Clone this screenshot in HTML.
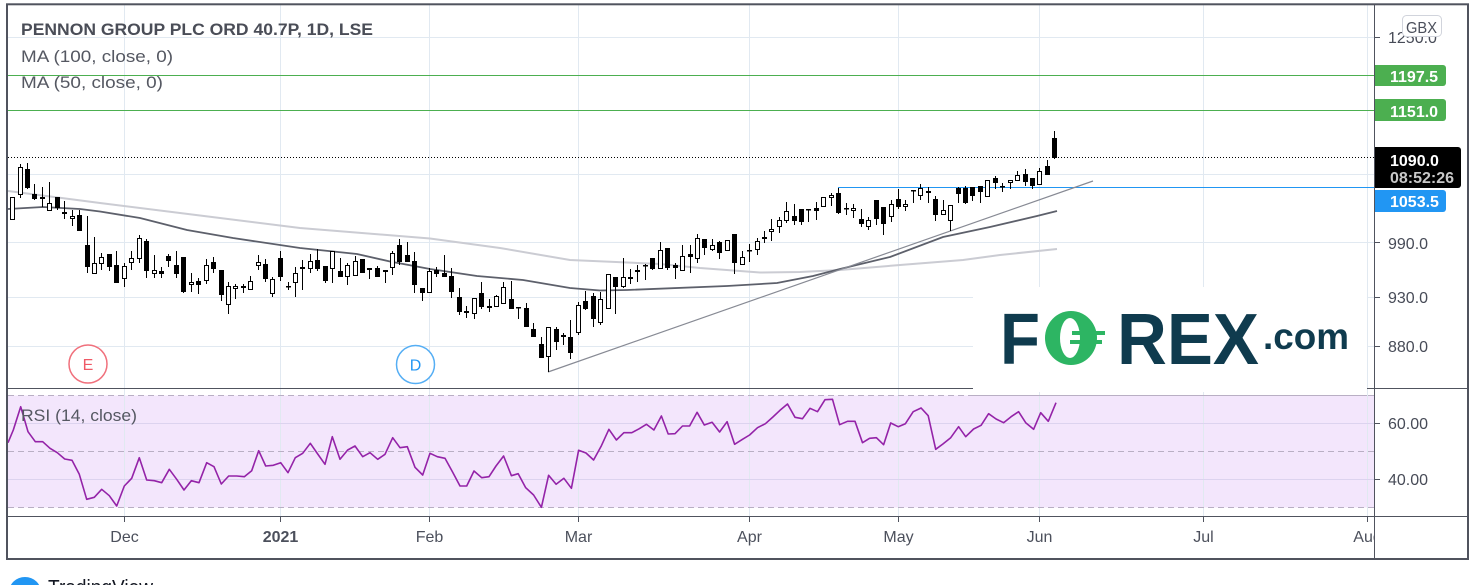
<!DOCTYPE html>
<html><head><meta charset="utf-8"><style>
html,body{margin:0;padding:0;background:#fff;}
svg{display:block;}
text{font-family:"Liberation Sans",Arial,sans-serif;}
</style></head><body>
<svg width="1478" height="585" viewBox="0 0 1478 585" xmlns="http://www.w3.org/2000/svg">
<defs>
<clipPath id="pp"><rect x="8" y="5" width="1366" height="383"/></clipPath>
<clipPath id="ta"><rect x="8" y="516" width="1366" height="42"/></clipPath>
</defs>
<rect width="1478" height="585" fill="#fff"/>
<rect x="8" y="395.5" width="1366" height="112" fill="#f3e6fc"/>
<g stroke="#e1e9f1" stroke-width="1">
<path d="M124.5 5V516M280.5 5V516M429.5 5V516M578.5 5V516M749.5 5V516M898.5 5V516M1039.5 5V516M1203.5 5V516M1367.5 5V516"/>
<path d="M8 37.5H1374M8 110.5H1374M8 174.5H1374M8 242.5H1374M8 297.5H1374M8 346.5H1374"/>
</g>
<path d="M8 423.5H1374M8 479.5H1374" stroke="#dcd3ef" stroke-width="1"/>
<path d="M8 395.5H1374M8 451.5H1374M8 507.5H1374" stroke="#b9afc4" stroke-width="1" stroke-dasharray="6,4"/>
<g clip-path="url(#pp)">
<path d="M8 75.5H1374M8 110.5H1374" stroke="#4caf50" stroke-width="1"/>
<path d="M8 157.5H1374" stroke="#000" stroke-width="1" stroke-dasharray="1,2"/>
<path d="M838 187.5H1374" stroke="#2196f3" stroke-width="1"/>
<polyline fill="none" stroke="#cbccd3" stroke-width="2" points="8,191 100,203 200,215.5 300,228 430,238.5 500,248 570,260 660,264 700,268 760,272.5 800,272 840,270 900,265 963,260 1000,255 1057,249"/>
<polyline fill="none" stroke="#5d606b" stroke-width="1.8" points="8,209 43,207 80,209 100,211.5 140,218 187,230 233,238 300,248 357,254 390,261.5 430,269 477,276 523,280 570,288 600,290.5 627,290 727,286 777,283 813,276 840,269 890,257 943,237 990,227 1037,216 1057,211"/>
<line x1="548" y1="372" x2="1093" y2="181" stroke="#878a94" stroke-width="1.2"/>
<path stroke="#000" stroke-width="1" fill="none" d="M12.5 197V220M20.5 164V198M27.5 163V189M34.5 184V200M42.5 187V207M49.5 182V211M57.5 197V210M64.5 201V219M72.5 210V226M79.5 210V231M87.5 216V273M94.5 237V274M101.5 253V270M109.5 254V271M116.5 251V283M124.5 263V287M131.5 251V270M139.5 235V263M146.5 239V278M154.5 255V278M161.5 267V278M168.5 254V267M176.5 251V278M183.5 257V293M191.5 273V292M198.5 278V294M206.5 259V284M213.5 257V273M221.5 270V301M228.5 282V314M235.5 284V299M243.5 284V293M250.5 276V290M258.5 255V270M265.5 259V282M272.5 277V297M280.5 251V281M288.5 282V290M295.5 267V297M302.5 260V290M310.5 254V273M317.5 249V271M325.5 266V283M332.5 251V283M340.5 258V277M347.5 263V285M355.5 256V276M362.5 259V273M369.5 268V279M377.5 266V277M385.5 270V283M392.5 251V275M399.5 239V265M407.5 242V262M414.5 252V293M422.5 288V301M429.5 268V293M436.5 267V277M444.5 255V277M451.5 268V298M459.5 288V315M466.5 306V318M474.5 298V319M481.5 282V309M489.5 299V312M496.5 295V307M503.5 282V304M511.5 281V309M518.5 307V319M526.5 303V327M533.5 323V337M541.5 337V358M548.5 327V372M556.5 327V350M563.5 333V345M570.5 320V359M578.5 302V335M585.5 291V310M593.5 293V327M600.5 292V325M608.5 274V309M615.5 277V314M623.5 258V288M630.5 269V284M637.5 265V282M645.5 264V280M652.5 258V270M660.5 242V269M667.5 248V270M675.5 263V279M682.5 245V271M690.5 245V273M697.5 234V263M704.5 239V255M712.5 239V251M719.5 241V259M727.5 240V251M734.5 234V274M742.5 251V265M749.5 244V262M757.5 238V255M764.5 231V243M771.5 219V241M779.5 217V233M786.5 202V223M794.5 204V225M801.5 209V225M808.5 209V222M816.5 202V220M823.5 197V207M831.5 193V206M838.5 188V214M846.5 203V215M853.5 204V218M861.5 209V227M868.5 217V230M876.5 200V225M883.5 207V235M891.5 200V222M898.5 189V209M905.5 200V211M913.5 190V203M920.5 184V200M928.5 187V203M935.5 196V221M943.5 200V215M950.5 205V231M958.5 187V203M965.5 186V204M972.5 187V201M980.5 186V203M987.5 180V197M995.5 176V189M1002.5 183V192M1010.5 180V189M1017.5 171V181M1025.5 169V186M1032.5 178V189M1039.5 168V185M1047.5 160V175M1054.5 131V159"/>
<path fill="#000" d="M25 169h5v19h-5zM32 194h5v5h-5zM55 197h5v11h-5zM62 212h5v2h-5zM77 215h5v16h-5zM85 245h5v22h-5zM107 254h5v13h-5zM114 265h5v18h-5zM144 241h5v30h-5zM159 271h5v3h-5zM166 256h5v5h-5zM174 265h5v9h-5zM181 257h5v35h-5zM196 281h5v4h-5zM211 262h5v7h-5zM219 270h5v25h-5zM263 264h5v15h-5zM278 258h5v19h-5zM286 286h5v1.5h-5zM300 267h5v2h-5zM315 260h5v9h-5zM323 266h5v15h-5zM338 271h5v6h-5zM360 259h5v14h-5zM375 268h5v9h-5zM383 270h5v2h-5zM397 245h5v17h-5zM405 255h5v7h-5zM412 261h5v24h-5zM420 288h5v5h-5zM434 270h5v4h-5zM442 273h5v4h-5zM449 276h5v16h-5zM457 297h5v15h-5zM464 311h5v2h-5zM479 293h5v14h-5zM509 299h5v10h-5zM516 307h5v1.5h-5zM524 308h5v19h-5zM531 329h5v8h-5zM539 344h5v14h-5zM554 329h5v13h-5zM568 337h5v16h-5zM583 301h5v8h-5zM591 296h5v23h-5zM613 277h5v10h-5zM643 265h5v1.5h-5zM650 258h5v11h-5zM665 248h5v20h-5zM673 265h5v3h-5zM688 254h5v3h-5zM702 239h5v9h-5zM717 242h5v11h-5zM732 234h5v29h-5zM747 250h5v1.5h-5zM792 216h5v5h-5zM799 209h5v13h-5zM806 209h5v1.5h-5zM814 208h5v3h-5zM836 193h5v20h-5zM844 208h5v1.5h-5zM859 219h5v5h-5zM874 200h5v19h-5zM881 207h5v17h-5zM896 199h5v8h-5zM911 190h5v1.5h-5zM926 191h5v2h-5zM933 199h5v16h-5zM956 188h5v6h-5zM963 188h5v15h-5zM970 187h5v9h-5zM978 186h5v6h-5zM993 178h5v5h-5zM1000 186h5v1.5h-5zM1023 174h5v8h-5zM1030 178h5v8h-5zM1045 166h5v9h-5zM1052 138h5v20h-5z"/>
<path fill="#fff" stroke="#000" stroke-width="1" d="M10.5 197.5h4v22h-4zM18.5 167.5h4v27h-4zM40.5 197.5h4v1h-4zM47.5 203.5h4v7h-4zM70.5 216.5h4v2h-4zM92.5 263.5h4v10h-4zM99.5 257.5h4v6h-4zM122.5 266.5h4v12h-4zM129.5 258.5h4v4h-4zM137.5 238.5h4v20h-4zM152.5 270.5h4v3h-4zM189.5 282.5h4v2h-4zM204.5 265.5h4v15h-4zM226.5 286.5h4v18h-4zM233.5 286.5h4v2h-4zM241.5 286.5h4v1h-4zM248.5 281.5h4v8h-4zM256.5 262.5h4v3h-4zM270.5 279.5h4v14h-4zM293.5 273.5h4v9h-4zM308.5 261.5h4v7h-4zM330.5 251.5h4v17h-4zM345.5 265.5h4v11h-4zM353.5 261.5h4v14h-4zM367.5 268.5h4v1h-4zM390.5 253.5h4v14h-4zM427.5 271.5h4v21h-4zM472.5 298.5h4v15h-4zM487.5 306.5h4v1h-4zM494.5 296.5h4v10h-4zM501.5 287.5h4v16h-4zM546.5 327.5h4v29h-4zM561.5 335.5h4v1h-4zM576.5 305.5h4v27h-4zM598.5 299.5h4v23h-4zM606.5 274.5h4v34h-4zM621.5 277.5h4v9h-4zM628.5 277.5h4v1h-4zM635.5 270.5h4v1h-4zM658.5 250.5h4v18h-4zM680.5 256.5h4v14h-4zM695.5 238.5h4v20h-4zM710.5 245.5h4v4h-4zM725.5 240.5h4v10h-4zM740.5 257.5h4v7h-4zM755.5 241.5h4v8h-4zM762.5 237.5h4v1h-4zM769.5 229.5h4v2h-4zM777.5 220.5h4v6h-4zM784.5 211.5h4v9h-4zM821.5 197.5h4v9h-4zM829.5 195.5h4v2h-4zM851.5 208.5h4v2h-4zM866.5 220.5h4v6h-4zM889.5 204.5h4v12h-4zM903.5 204.5h4v2h-4zM918.5 188.5h4v7h-4zM941.5 210.5h4v4h-4zM948.5 205.5h4v15h-4zM985.5 180.5h4v16h-4zM1008.5 180.5h4v2h-4zM1015.5 175.5h4v5h-4zM1037.5 171.5h4v13h-4z"/>
</g>
<polyline fill="none" stroke="#9423a8" stroke-width="1.6" stroke-linejoin="round" points="8,442.7 13.3,430 20.7,406.7 28,431.7 35.3,441.7 42.7,441.7 50,448.3 57.3,452.7 64.7,459 72,460.3 79.3,474.3 86.7,499.3 94.3,497.3 101.7,489.3 109.3,495.7 116.7,506 124.3,486 131.7,478.3 139.3,457.7 146.7,480 154.3,480.7 161.7,482.7 169.3,469.3 176.7,479.3 184,490 191.3,480.7 199,482.7 206.7,462.7 214,466.7 221.3,484 228.7,476 236.7,476 244.3,476.7 251.7,470.7 258.7,450.7 265.7,466 273.3,465.3 280.7,462.7 288,472.7 295.3,457.7 302.7,453.3 310.3,443.3 317.7,454 325,464.3 332.3,436.7 340,459.3 347.7,450 355,446 362.7,456.7 370,452.7 377.7,459.3 385,454.3 392.7,437.7 400,447.7 407.3,446.7 415,467.3 422.7,475 430,453.3 437.3,456.7 445,458.3 452.7,472.3 460,486 466.7,486 474,471 481.7,477.7 489,476.7 496,466 503.6,456 511.4,475.7 518.2,473.7 525.7,487.7 533.6,495 541.4,507.3 548.6,475.3 556.1,484.3 563.9,478.3 571.4,488.3 578.6,450.3 586,453 593.6,460 601.4,445.7 608.9,429.3 616.4,440 623.9,432.7 631.8,432.7 639.3,428.7 646.4,424.3 653.9,430 661.4,416 668.2,434 675,433.7 682.5,426 689.6,426 697.1,412.3 704.3,425 712.1,422.3 719.6,432 727.1,421.7 734.6,444.3 742.5,439.3 749.6,435 757.5,427.7 765.4,423.7 772.9,417 780,410.3 787.5,404 795,417.3 802.5,418.7 810,408.3 817.5,411.7 825,399.7 832.5,399.3 839.6,424.7 847.5,421.3 855,421.3 862.5,442.7 869.6,438.3 876.4,437.7 883.6,444.7 890.7,423 898.2,426.7 905.4,423.7 913.2,411.7 921.1,408 928.2,415.7 935.7,449.3 942.9,444 950.7,437.7 958.6,426.7 965.7,436.7 973.6,429 981.1,425.3 988.6,413.7 996.1,419 1003.6,422.7 1011.1,416.7 1018.6,411.7 1025.7,422.7 1033.6,429.3 1040.7,412.7 1048.3,421.3 1056,402.7"/>
<path d="M7 388.5H1468M7 516.5H1468" stroke="#50535e" stroke-width="1"/>
<rect x="973" y="287" width="394" height="105" fill="#fff"/>
<path d="M973 395.5H1367" stroke="#b9afc4" stroke-width="1" stroke-dasharray="6,4"/>
<text x="1000" y="364" font-size="72" font-weight="bold" fill="#0f3b4e" textLength="40" lengthAdjust="spacingAndGlyphs">F</text>
<ellipse cx="1071" cy="338" rx="26" ry="27" fill="#2db563"/>
<ellipse cx="1070" cy="338" rx="10" ry="20" fill="#fff"/>
<rect x="1072" y="331" width="33" height="4" fill="#2db563"/>
<rect x="1070" y="340" width="32" height="4" fill="#2db563"/>
<text x="1117" y="364" font-size="72" font-weight="bold" fill="#0f3b4e" textLength="142" lengthAdjust="spacingAndGlyphs">REX</text>
<text x="1263" y="349" font-size="37" font-weight="bold" fill="#0f3b4e" textLength="86" lengthAdjust="spacingAndGlyphs">.com</text>
<circle cx="88" cy="364" r="19" fill="#fff" stroke="#f0707c" stroke-width="1.5"/>
<text x="88" y="370" font-size="16" fill="#ef5966" text-anchor="middle">E</text>
<circle cx="415.5" cy="364.5" r="19" fill="#fff" stroke="#55aef4" stroke-width="1.5"/>
<text x="415.5" y="370.5" font-size="16" fill="#2196f3" text-anchor="middle">D</text>
<text x="21" y="35" font-size="17" font-weight="bold" fill="#4a4d57" textLength="352" lengthAdjust="spacingAndGlyphs">PENNON GROUP PLC ORD 40.7P, 1D, LSE</text>
<text x="21" y="62" font-size="17" fill="#555862" textLength="152" lengthAdjust="spacingAndGlyphs">MA (100, close, 0)</text>
<text x="21" y="88" font-size="17" fill="#555862" textLength="142" lengthAdjust="spacingAndGlyphs">MA (50, close, 0)</text>
<text x="21" y="421" font-size="17" fill="#555862" textLength="116" lengthAdjust="spacingAndGlyphs">RSI (14, close)</text>
<path d="M1374 37.5h6M1374 242.5h6M1374 297.5h6M1374 346.5h6M1374 423.5h6M1374 479.5h6" stroke="#50535e" stroke-width="1"/>
<g font-size="16" fill="#474b57">
<text x="1388" y="43">1250.0</text>
<text x="1388" y="249">990.0</text>
<text x="1388" y="303">930.0</text>
<text x="1388" y="352">880.0</text>
<text x="1388" y="429">60.00</text>
<text x="1388" y="485">40.00</text>
</g>
<rect x="1402.5" y="15.5" width="39" height="21" rx="4" fill="#fff" stroke="#d1d4dc" stroke-width="1"/>
<text x="1421.5" y="33" font-size="16" fill="#4c505c" text-anchor="middle" textLength="31" lengthAdjust="spacingAndGlyphs">GBX</text>
<path d="M1374 65h69a3 3 0 0 1 3 3v15a3 3 0 0 1 -3 3h-69z" fill="#4caf50"/>
<text x="1390" y="82" font-size="16" font-weight="bold" fill="#fff">1197.5</text>
<path d="M1374 99h69a3 3 0 0 1 3 3v16a3 3 0 0 1 -3 3h-69z" fill="#4caf50"/>
<text x="1390" y="117" font-size="16" font-weight="bold" fill="#fff">1151.0</text>
<path d="M1374 147h84a3 3 0 0 1 3 3v35a3 3 0 0 1 -3 3h-84z" fill="#000"/>
<text x="1390" y="166" font-size="16" font-weight="bold" fill="#fff">1090.0</text>
<text x="1390" y="183" font-size="16" font-weight="bold" fill="#c8c8c8">08:52:26</text>
<path d="M1374 190h69a3 3 0 0 1 3 3v16a3 3 0 0 1 -3 3h-69z" fill="#2196f3"/>
<text x="1390" y="207" font-size="16" font-weight="bold" fill="#fff">1053.5</text>
<path d="M124.5 516v6M280.5 516v6M429.5 516v6M578.5 516v6M749.5 516v6M898.5 516v6M1039.5 516v6M1203.5 516v6M1367.5 516v6" stroke="#50535e" stroke-width="1"/>
<g font-size="16" fill="#4c505c" text-anchor="middle" clip-path="url(#ta)">
<text x="124.5" y="542">Dec</text>
<text x="280.5" y="542" font-weight="bold">2021</text>
<text x="429.5" y="542">Feb</text>
<text x="578.5" y="542">Mar</text>
<text x="749.5" y="542">Apr</text>
<text x="898.5" y="542">May</text>
<text x="1039.5" y="542">Jun</text>
<text x="1203.5" y="542">Jul</text>
<text x="1367.5" y="542">Aug</text>
</g>
<path d="M1374.5 4V559" stroke="#50535e" stroke-width="1"/>
<rect x="7" y="4.3" width="1461" height="554.7" fill="none" stroke="#50535e" stroke-width="2"/>
<ellipse cx="25" cy="592" rx="16" ry="15" fill="#2196f3"/>
<text x="48" y="594" font-size="20" fill="#131722" textLength="105" lengthAdjust="spacingAndGlyphs">TradingView</text>
</svg>
</body></html>
